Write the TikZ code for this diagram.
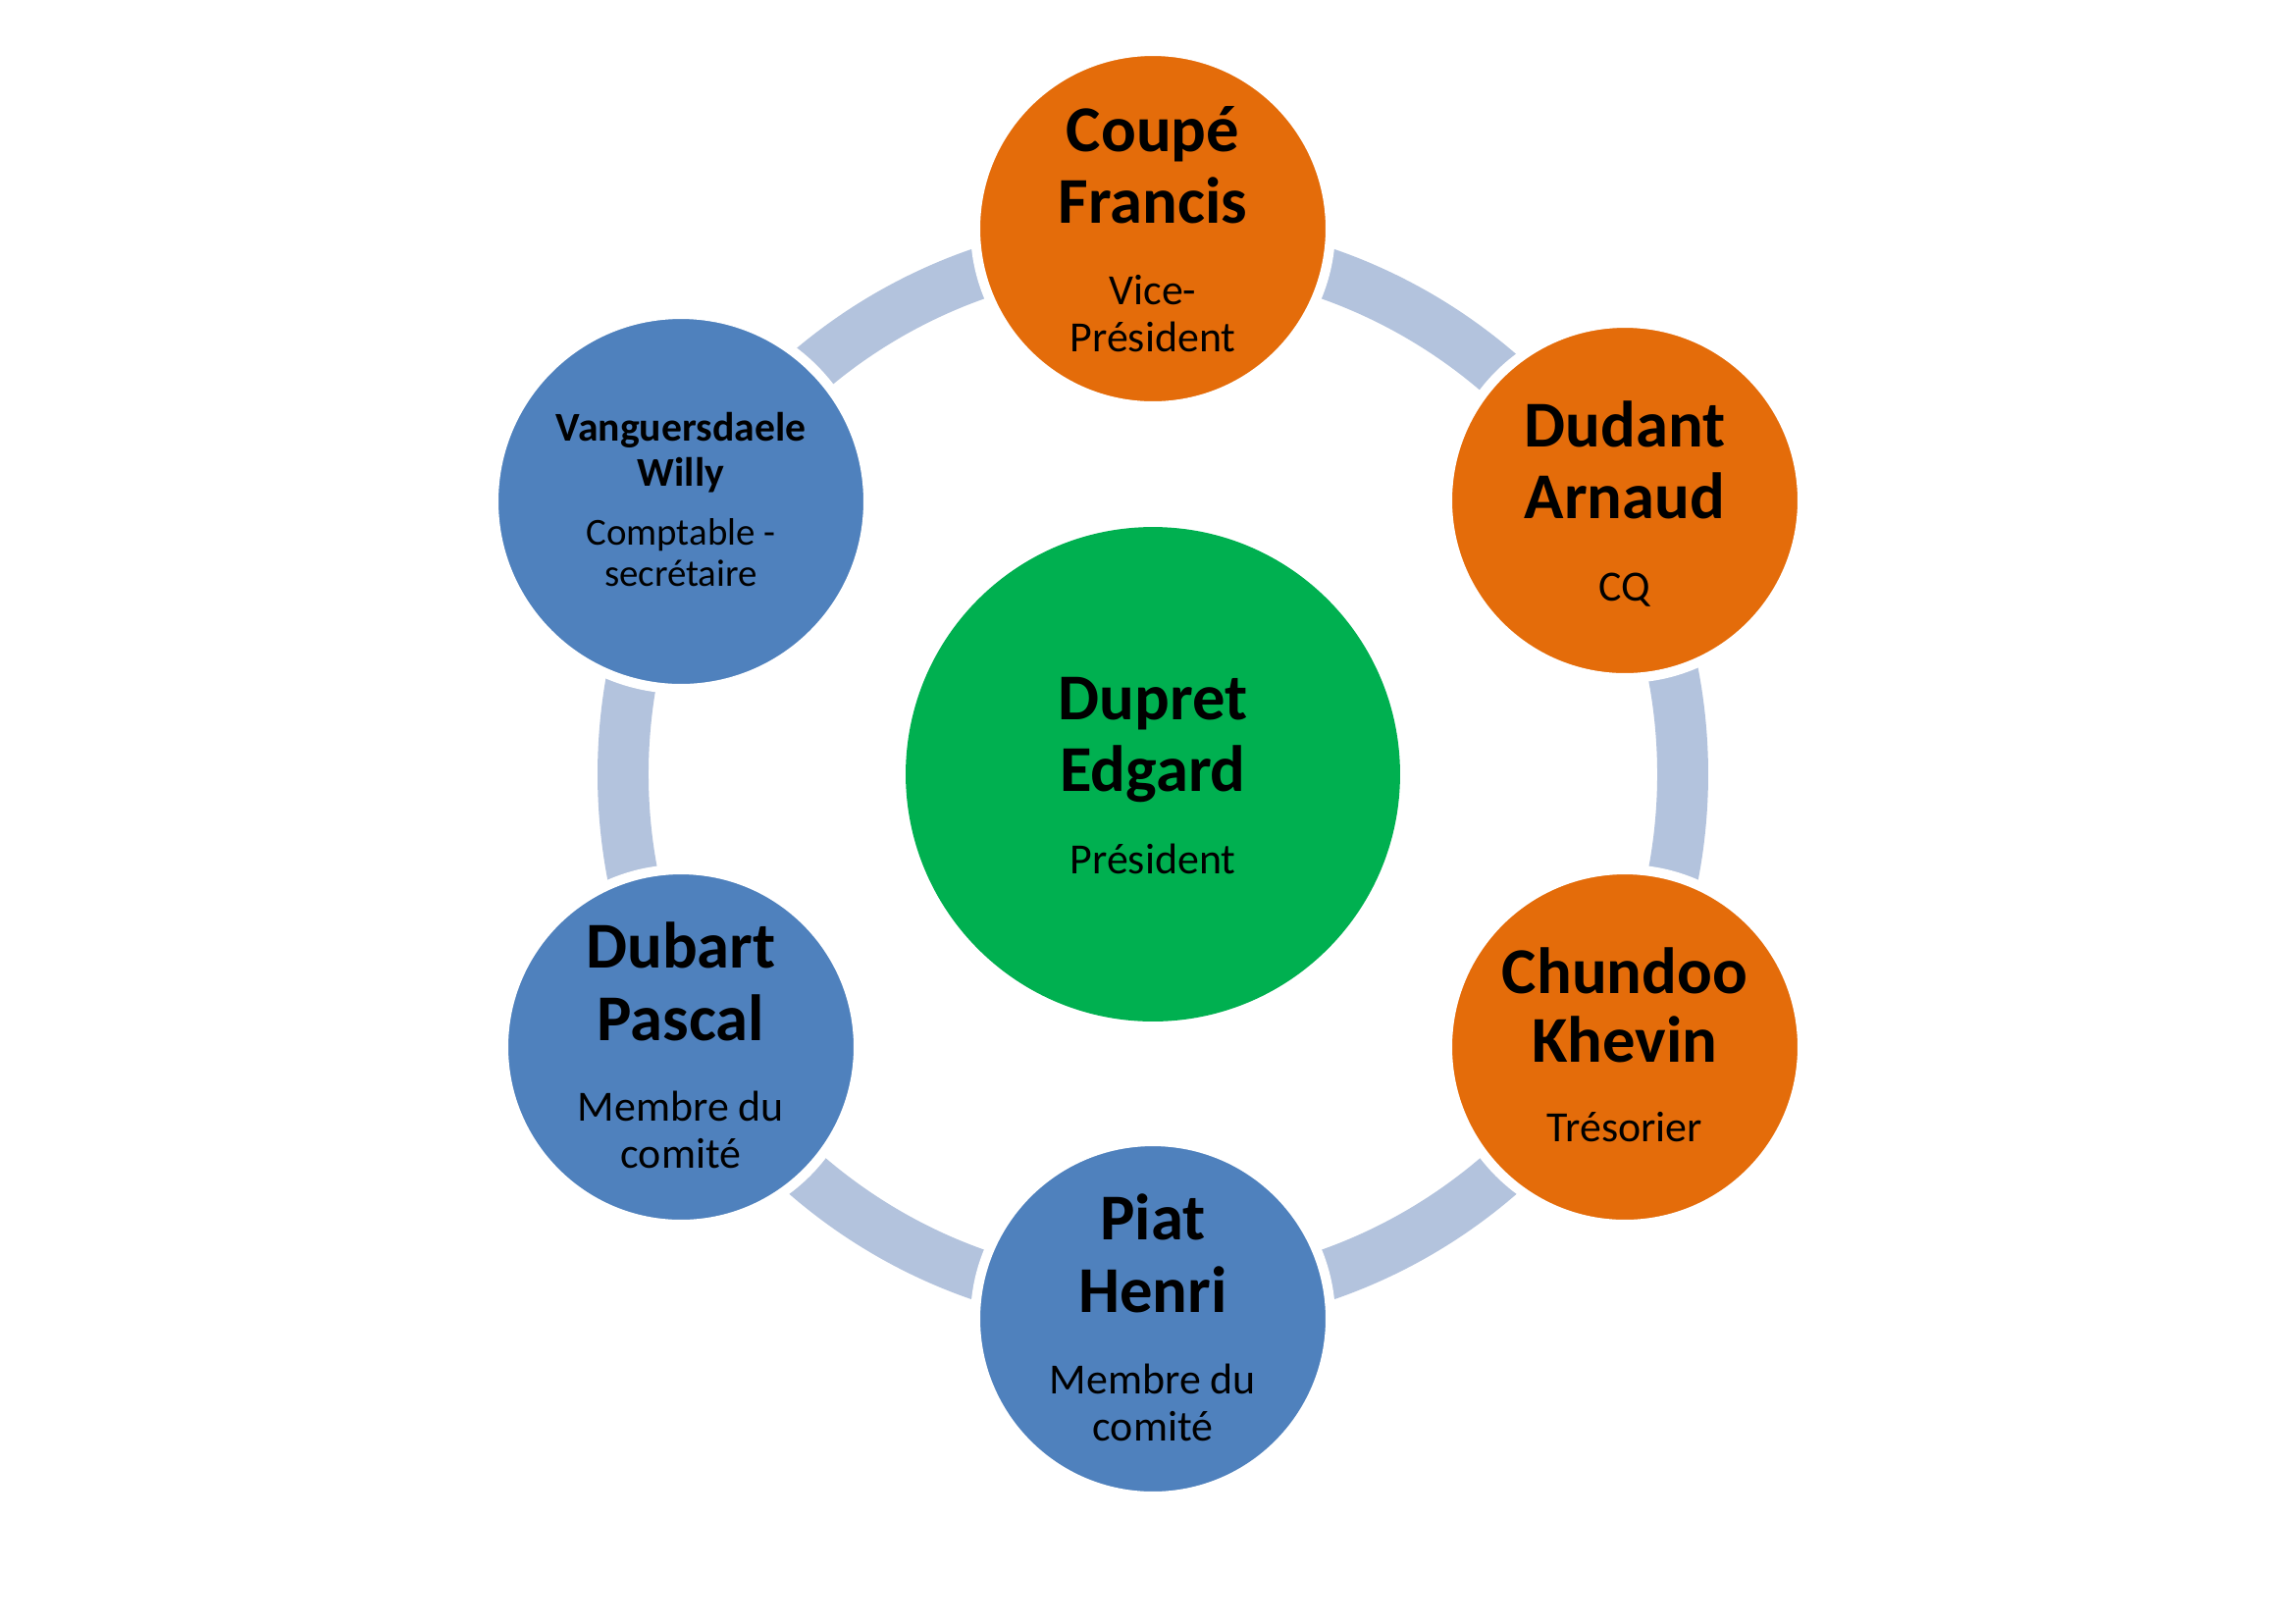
\documentclass[tikz,border=0pt]{standalone}
\usepackage{fontspec}
\setmainfont{Carlito}
\definecolor{ringblue}{HTML}{B3C3DD}
\definecolor{orangeacc}{HTML}{E46C0A}
\definecolor{blueacc}{HTML}{4F81BD}
\definecolor{greenacc}{HTML}{00B050}
\tikzset{
  person/.style={circle, draw=white, line width=3.6pt, inner sep=0pt, minimum size=130.3pt},
  ringline/.style={draw=ringblue, line width=18.7pt},
  namelbl/.style={anchor=base, inner sep=0pt, font=\fontsize{24}{28}\selectfont\bfseries},
  rolelbl/.style={anchor=base, inner sep=0pt, font=\fontsize{15.8}{19}\selectfont},
  smallname/.style={anchor=base, inner sep=0pt, font=\fontsize{15}{18}\selectfont\bfseries},
  smallrole/.style={anchor=base, inner sep=0pt, font=\fontsize{14}{17}\selectfont},
}
\begin{document}
\begin{tikzpicture}[x=0.36pt, y=-0.36pt]
\useasboundingbox (0,0) rectangle (2339,1654);
\fill[white] (0,0) rectangle (2339,1654);
% center
\node[circle, fill=greenacc, inner sep=0pt, minimum size=181.4pt] (pres) at (1175,789) {};
% ring
\draw[ringline] (pres.center) circle[radius=540];
% outer circles
\node[person, fill=orangeacc] (coupe) at (1175,233) {};
\node[person, fill=orangeacc] (dudant) at (1656,510) {};
\node[person, fill=orangeacc] (chundoo) at (1656,1067) {};
\node[person, fill=blueacc] (piat) at (1175,1344) {};
\node[person, fill=blueacc] (dubart) at (694,1067) {};
\node[person, fill=blueacc, minimum size=137.5pt] (vang) at (694,511) {};
% texts
\node[namelbl] (presn1) at (1175,733) {Dupret};
\node[namelbl] (presn2) at (1175,806) {Edgard};
\node[rolelbl] (presr1) at (1175,890) {Président};

\node[namelbl] (coupen1) at (1175,154) {Coupé};
\node[namelbl] (coupen2) at (1175,227) {Francis};
\node[rolelbl] (couper1) at (1175,310) {Vice-};
\node[rolelbl] (couper2) at (1175,358) {Président};

\node[namelbl] (dudantn1) at (1656,455) {Dudant};
\node[namelbl] (dudantn2) at (1656,528) {Arnaud};
\node[rolelbl] (dudantr1) at (1656,612) {CQ};

\node[namelbl] (chundoon1) at (1656,1012) {Chundoo};
\node[namelbl] (chundoon2) at (1656,1082) {Khevin};
\node[rolelbl] (chundoor1) at (1656,1163) {Trésorier};

\node[namelbl] (piatn1) at (1175,1263) {Piat};
\node[namelbl] (piatn2) at (1175,1337) {Henri};
\node[rolelbl] (piatr1) at (1175,1420) {Membre du};
\node[rolelbl] (piatr2) at (1175,1468) {comité};

\node[namelbl] (dubartn1) at (694,986) {Dubart};
\node[namelbl] (dubartn2) at (694,1060) {Pascal};
\node[rolelbl] (dubartr1) at (694,1142) {Membre du};
\node[rolelbl] (dubartr2) at (694,1190) {comité};

\node[smallname] (vangn1) at (694,449) {Vanguersdaele};
\node[smallname] (vangn2) at (694,495) {Willy};
\node[smallrole] (vangr1) at (694,555) {Comptable -};
\node[smallrole] (vangr2) at (694,597) {secrétaire};
\end{tikzpicture}
\end{document}
